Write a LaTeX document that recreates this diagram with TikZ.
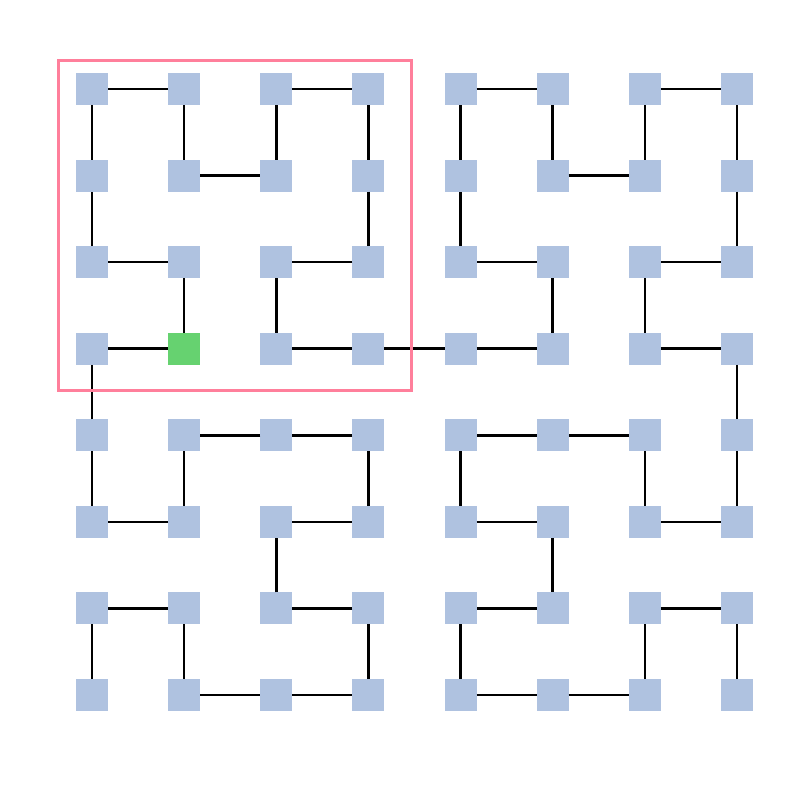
\documentclass[tikz,border=0pt]{standalone}
\begin{document}
\begin{tikzpicture}[x=1pt,y=-1pt,
  cell/.style={fill=cellblue,draw=none,minimum size=32pt,inner sep=0pt,outer sep=0pt},
  startcell/.style={cell,fill=cellgreen},
  link/.style={line width=2.5pt,black},
  frame/.style={draw=framepink,line width=3pt}]
\definecolor{cellblue}{HTML}{AFC2E0}
\definecolor{cellgreen}{HTML}{66D270}
\definecolor{framepink}{HTML}{FF7F9B}
\useasboundingbox (0,0) rectangle (800,800);
% nodes
\foreach \i in {1,...,8}{
  \foreach \j in {1,...,8}{
    \ifnum\i=2 \ifnum\j=4
      \node[startcell] (n-\i-\j) at ({92+92.14*(\i-1)},{89+86.57*(\j-1)}) {};
    \else
      \node[cell] (n-\i-\j) at ({92+92.14*(\i-1)},{89+86.57*(\j-1)}) {};
    \fi
    \else
      \node[cell] (n-\i-\j) at ({92+92.14*(\i-1)},{89+86.57*(\j-1)}) {};
    \fi
  }
}
% connectors along the curve
\def\pts{1/8,1/7,2/7,2/8,3/8,4/8,4/7,3/7,3/6,4/6,4/5,3/5,2/5,2/6,1/6,1/5,1/4,2/4,2/3,1/3,1/2,1/1,2/1,2/2,3/2,3/1,4/1,4/2,4/3,3/3,3/4,4/4,5/4,6/4,6/3,5/3,5/2,5/1,6/1,6/2,7/2,7/1,8/1,8/2,8/3,7/3,7/4,8/4,8/5,8/6,7/6,7/5,6/5,5/5,5/6,6/6,6/7,5/7,5/8,6/8,7/8,7/7,8/7,8/8}
\foreach \a/\b [count=\k] in \pts {
  \ifnum\k>1
    \draw[link] (n-\pa-\pb) -- (n-\a-\b);
  \fi
  \xdef\pa{\a}\xdef\pb{\b}
}
\draw[frame] (58,61) rectangle (411,390);
\end{tikzpicture}
\end{document}
